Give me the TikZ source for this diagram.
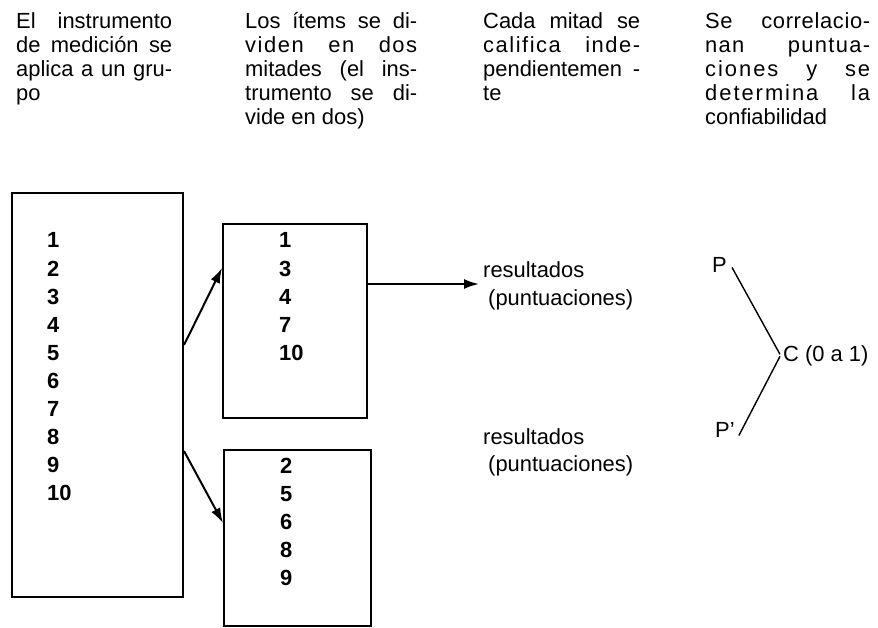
\documentclass[tikz,border=0pt]{standalone}
\usepackage{fontspec}
\setmainfont{Liberation Sans}
\usetikzlibrary{arrows.meta}
\newcommand{\jl}[2]{\makebox[#1][s]{#2}}
\newcommand{\ls}[2]{{\addfontfeatures{LetterSpace=#1}#2}}
\begin{document}
\begin{tikzpicture}[x=1bp,y=-1bp,
  boxnode/.style={draw, line width=2bp, anchor=north west, inner sep=0pt},
  arr/.style={-{Latex[length=15bp,width=10bp]}, line width=2bp},
  thin/.style={line width=1.4bp},
  num/.style={anchor=base west, inner sep=0pt, font=\fontsize{22}{24}\selectfont\bfseries},
  txt/.style={anchor=base west, inner sep=0pt, font=\fontsize{22}{24}\selectfont}]
\useasboundingbox (0,0) rectangle (878,628);

% headers
\node[txt] (h11) at (16,29)  {\jl{156bp}{El instrumento}};
\node[txt] (h12) at (16,53)  {\jl{156bp}{de medición se}};
\node[txt] (h13) at (16,77)  {\jl{156bp}{aplica a un gru-}};
\node[txt] (h14) at (16,101) {po};

\node[txt] (h21) at (245,29)  {\jl{172bp}{Los ítems se di-}};
\node[txt] (h22) at (245,53)  {\jl{172bp}{\ls{7}{viden en dos}}};
\node[txt] (h23) at (245,77)  {\jl{172bp}{mitades (el ins-}};
\node[txt] (h24) at (245,101) {\jl{172bp}{trumento se di-}};
\node[txt] (h25) at (245,125) {vide en dos)};

\node[txt] (h31) at (483,29)  {\jl{157bp}{Cada mitad se}};
\node[txt] (h32) at (483,53)  {\jl{157bp}{\ls{7}{califica inde-}}};
\node[txt] (h33) at (483,77)  {\jl{157bp}{pendientemen -}};
\node[txt] (h34) at (483,101) {te};

\node[txt] (h41) at (705,29)  {\jl{165bp}{\ls{3}{Se correlacio-}}};
\node[txt] (h42) at (705,53)  {\jl{165bp}{\ls{6}{nan puntua-}}};
\node[txt] (h43) at (705,77)  {\jl{165bp}{\ls{9}{ciones y se}}};
\node[txt] (h44) at (705,101) {\jl{165bp}{\ls{9}{determina la}}};
\node[txt] (h45) at (705,125) {confiabilidad};

% boxes
\node[boxnode, minimum width=171bp, minimum height=404bp] (big) at (11,192) {};
\node[boxnode, minimum width=144bp, minimum height=194bp] (up) at (222,223) {};
\node[boxnode, minimum width=147bp, minimum height=176bp] (low) at (223,449) {};

% numbers
\foreach \t [count=\k] in {1,2,3,4,5,6,7,8,9,10}
  \node[num] (b\k) at (47,220+28*\k) {\t};
\foreach \t [count=\k] in {1,3,4,7,10}
  \node[num] (u\k) at (279,220+28*\k) {\t};
\foreach \t [count=\k] in {2,5,6,8,9}
  \node[num] (l\k) at (280,445+28*\k) {\t};

% results
\node[txt] (r1a) at (483,277) {resultados};
\node[txt] (r1b) at (488,305) {(puntuaciones)};
\node[txt] (r2a) at (483,444) {resultados};
\node[txt] (r2b) at (488,471) {(puntuaciones)};

% correlation
\node[txt] (p1) at (712,272) {P};
\node[txt] (p2) at (715,437) {P'};
\node[txt] (c) at (783,361) {C (0 a 1)};

% arrows
\draw[arr] ([yshift=50bp]big.east) -- ([yshift=53bp]up.west);
\draw[arr] ([yshift=-56bp]big.east) -- ([yshift=15bp]low.west);
\coordinate (tip) at (479,283);
\coordinate (s1) at ([yshift=37bp]up.east);
\draw[arr] (s1) -- (s1 -| tip);

\draw[thin] ([xshift=5bp,yshift=-3bp]p1.east) -- ([xshift=-3bp,yshift=1bp]c.west);
\draw[thin] ([xshift=4bp,yshift=-6bp]p2.east) -- ([xshift=-3bp,yshift=-1bp]c.west);
\end{tikzpicture}
\end{document}
